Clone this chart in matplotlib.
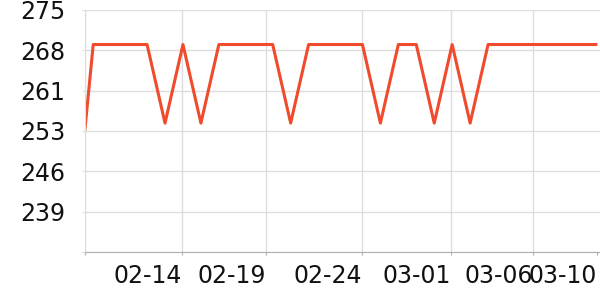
import numpy as np
import pandas as pd
import matplotlib
matplotlib.use('Agg')
import matplotlib.pyplot as plt

# data
times = ['2023-02-08 14:00'] + [d.strftime('%Y-%m-%d 01:00') for d in pd.date_range('2023-02-09', '2023-03-09')]
values = [253.8,
          268.8, 268.8, 268.8, 268.8, 254.8, 268.8, 254.8, 268.8, 268.8, 268.8,
          268.8, 254.8, 268.8, 268.8, 268.8, 268.8, 254.8, 268.8, 268.8, 254.8,
          268.8, 254.8, 268.8, 268.8, 268.8, 268.8, 268.8, 268.8, 268.8]
tick_times = ['2023-02-08 14:00', '2023-02-14 00:00', '2023-02-18 16:00', '2023-02-24 00:00',
              '2023-02-28 23:00', '2023-03-05 13:30', '2023-03-09 02:50']
tick_labels = ['', '02-14', '02-19', '02-24', '03-01', '03-06', '03-10']
y_min, y_max = 231.8, 275.0

x = pd.to_datetime(times)
fig = plt.figure(figsize=(6, 3), dpi=100)
ax = fig.add_axes([85 / 600, (300 - 252.3) / 300, 515 / 600, 242.6 / 300])

ax.plot(x, values, color='#ef4b2c', linewidth=2.2, solid_joinstyle='round')

ax.set_xlim(pd.Timestamp('2023-02-08 14:00'), pd.Timestamp('2023-03-09 06:40'))
ax.set_ylim(y_min, y_max)

yt = np.linspace(y_min, y_max, 7)
ax.set_yticks(yt)
ax.set_yticklabels([''] + ['%d' % round(v) for v in yt[1:]])
ax.set_xticks(pd.to_datetime(tick_times))
ax.set_xticklabels(tick_labels, ha='right')

ax.grid(True, color='#dddddd', linewidth=1)
ax.set_axisbelow(True)
# last label sits at the right edge without its own gridline
ax.xaxis.get_gridlines()[-1].set_visible(False)
for s in ['top', 'right']:
    ax.spines[s].set_visible(False)
ax.spines['left'].set_color('#dddddd')
ax.spines['bottom'].set_color('#b0b0b0')

ax.tick_params(axis='y', length=2.2, color='#dddddd', pad=12, labelsize=17, labelcolor='#111111')
ax.tick_params(axis='x', length=2.2, color='#b0b0b0', pad=6.5, labelsize=17, labelcolor='#111111')

fig.savefig('out.png', dpi=100)
